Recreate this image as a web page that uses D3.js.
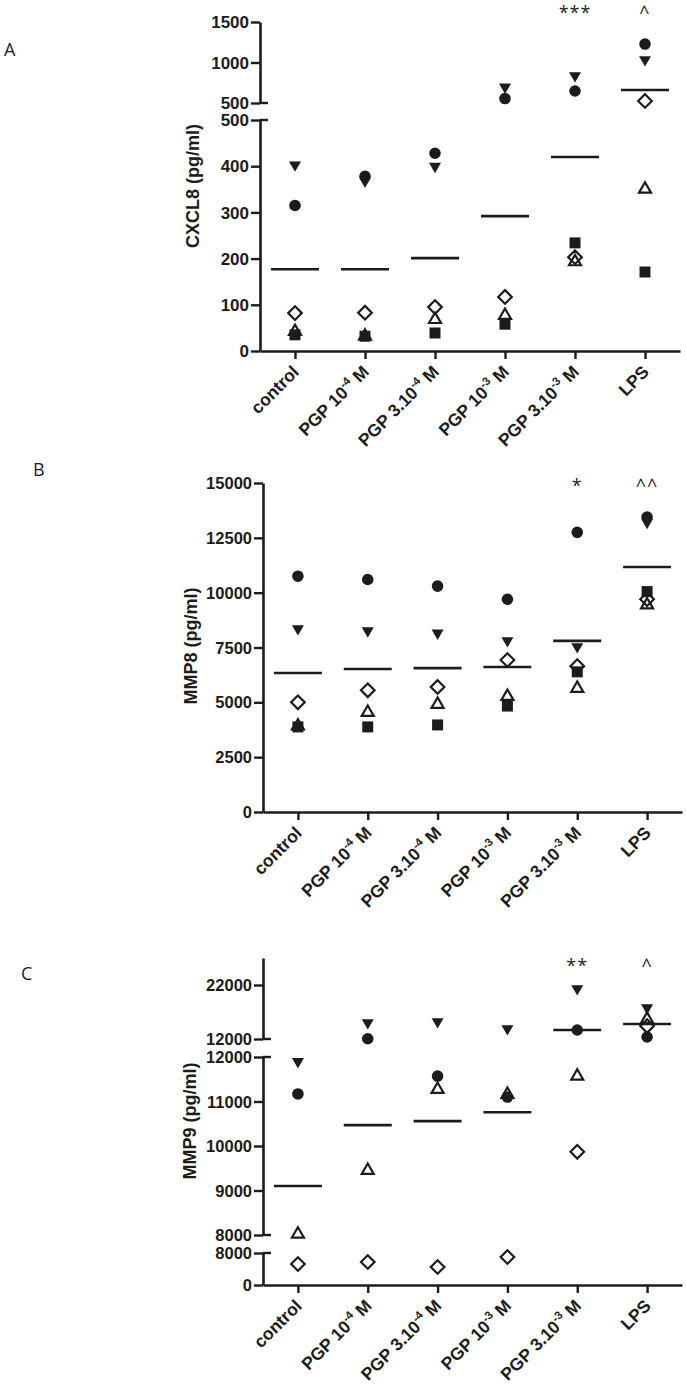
<!DOCTYPE html>
<html><head><meta charset="utf-8">
<script src="https://cdn.jsdelivr.net/npm/d3@7"></script>
<style>html,body{margin:0;padding:0;background:#fff;} svg{display:block;}</style>
</head><body><svg id="chart" width="687" height="1388"></svg>
<script>
// ---------- data ----------
const categories = ["control", "PGP 10-4 M", "PGP 3.10-4 M", "PGP 10-3 M", "PGP 3.10-3 M", "LPS"];
const labelBase = ["control", "PGP 10", "PGP 3.10", "PGP 10", "PGP 3.10", "LPS"];
const labelSup  = ["", "-4", "-4", "-3", "-3", ""];
const labelTail = ["", " M", " M", " M", " M", ""];

// Panel A: CXCL8 (pg/ml)
const cxcl8Circle   = [315, 378, 428, 555, 648, 1228];
const cxcl8TriDown  = [400, 365, 397, 680, 821, 1019];
const cxcl8Diamond  = [82, 83, 95, 117, 203, 525];
const cxcl8TriUp    = [45, 35, 71, 80, 196, 353];
const cxcl8Square   = [35, 32, 39, 58, 234, 171];
const cxcl8Mean     = [177, 177, 201, 292, 420, 660];
const cxcl8Sig      = ["", "", "", "", "***", "^"];
const cxcl8LowTicks = [0, 100, 200, 300, 400, 500];
const cxcl8HighTicks = [500, 1000, 1500];

// Panel B: MMP8 (pg/ml)
const mmp8Circle  = [10750, 10600, 10300, 9700, 12750, 13450];
const mmp8TriDown = [8300, 8200, 8100, 7750, 7480, 13150];
const mmp8Diamond = [5000, 5550, 5700, 6930, 6650, 9700];
const mmp8TriUp   = [3980, 4600, 4970, 5330, 5700, 9500];
const mmp8Square  = [3880, 3880, 3970, 4830, 6390, 10050];
const mmp8Mean    = [6340, 6520, 6560, 6610, 7800, 11170];
const mmp8Sig     = ["", "", "", "", "*", "^^"];
const mmp8Ticks   = [0, 2500, 5000, 7500, 10000, 12500, 15000];

// Panel C: MMP9 (pg/ml)
const mmp9Circle  = [11170, 12050, 11570, 11100, 13670, 12370];
const mmp9TriDown = [11870, 14780, 14960, 13670, 21070, 17550];
const mmp9Diamond = [5250, 5750, 4500, 7000, 9870, 14400];
const mmp9TriUp   = [8050, 9480, 11300, 11190, 11600, 15890];
const mmp9Mean    = [9100, 10470, 10560, 10760, 13670, 14780];
const mmp9Sig     = ["", "", "", "", "**", "^"];
const mmp9LowTicks  = [0, 8000];
const mmp9MidTicks  = [8000, 9000, 10000, 11000, 12000];
const mmp9HighTicks = [12000, 22000];

// ---------- layout ----------
const INK = "#1c1c1c";
const FONT = "'Liberation Sans', Arial, Helvetica, sans-serif";
const svg = d3.select("#chart");

const panels = [
  {
    letter: "A", letterX: 4, letterY: 56, title: "CXCL8 (pg/ml)", titleX: 193, titleY: 186,
    axisX: 260, axisEnd: 680, axisY: 351, tickFont: 17, sigY: 19,
    segments: [
      {domain: [0, 500], range: [351, 120], ticks: cxcl8LowTicks, breakTop: true, breakBottom: false},
      {domain: [500, 1500], range: [103, 22], ticks: cxcl8HighTicks, breakTop: false, breakBottom: true}
    ],
    series: [
      {shape: "square", values: cxcl8Square},
      {shape: "triangleUp", values: cxcl8TriUp},
      {shape: "diamond", values: cxcl8Diamond},
      {shape: "triangleDown", values: cxcl8TriDown},
      {shape: "circle", values: cxcl8Circle}
    ],
    means: cxcl8Mean, sig: cxcl8Sig
  },
  {
    letter: "B", letterX: 33, letterY: 476, title: "MMP8 (pg/ml)", titleX: 191, titleY: 646,
    axisX: 263, axisEnd: 682, axisY: 812, tickFont: 16.5, sigY: 492,
    segments: [
      {domain: [0, 15000], range: [812, 483], ticks: mmp8Ticks, breakTop: false, breakBottom: false}
    ],
    series: [
      {shape: "square", values: mmp8Square},
      {shape: "triangleUp", values: mmp8TriUp},
      {shape: "diamond", values: mmp8Diamond},
      {shape: "triangleDown", values: mmp8TriDown},
      {shape: "circle", values: mmp8Circle}
    ],
    means: mmp8Mean, sig: mmp8Sig
  },
  {
    letter: "C", letterX: 21, letterY: 980, title: "MMP9 (pg/ml)", titleX: 190, titleY: 1121,
    axisX: 263, axisEnd: 682, axisY: 1285, tickFont: 16.5, sigY: 972,
    segments: [
      {domain: [0, 8000], range: [1285, 1253], ticks: mmp9LowTicks, breakTop: true, breakBottom: false},
      {domain: [8000, 12000], range: [1235, 1057], ticks: mmp9MidTicks, breakTop: true, breakBottom: true},
      {domain: [12000, 27000], range: [1039, 958], ticks: mmp9HighTicks, breakTop: false, breakBottom: true}
    ],
    series: [
      {shape: "triangleUp", values: mmp9TriUp},
      {shape: "diamond", values: mmp9Diamond},
      {shape: "triangleDown", values: mmp9TriDown},
      {shape: "circle", values: mmp9Circle}
    ],
    means: mmp9Mean, sig: mmp9Sig
  }
];

const shapePaths = {
  circle: d3.symbol(d3.symbolCircle, Math.PI * 5.8 * 5.8)(),
  square: "M-5.5,-5.5H5.5V5.5H-5.5Z",
  triangleDown: "M-6,-4.8L6,-4.8L0,5.6Z",
  triangleUp: "M0,-5.6L6,4.8L-6,4.8Z",
  diamond: "M0,-6.8L6.8,0L0,6.8L-6.8,0Z"
};
const filled = {circle: true, square: true, triangleDown: true, triangleUp: false, diamond: false};

panels.forEach(p => {
  const g = svg.append("g");
  const x = d3.scalePoint().domain(categories).range([p.axisX, p.axisEnd]).padding(0.5);
  p.segments.forEach(s => { s.scale = d3.scaleLinear().domain(s.domain).range(s.range); });
  const yOf = v => {
    for (let i = p.segments.length - 1; i >= 0; i--) {
      const s = p.segments[i];
      if (v > s.domain[0] || i === 0) return s.scale(v);
    }
  };

  // panel letter
  g.append("text").attr("x", p.letterX).attr("y", p.letterY)
    .attr("font-family", "'Open Sans', sans-serif").attr("font-size", 18)
    .attr("fill", INK).text(p.letter);

  // y axis segments
  p.segments.forEach(s => {
    const ax = g.append("g").attr("transform", `translate(${p.axisX},0)`)
      .call(d3.axisLeft(s.scale).tickValues(s.ticks).tickFormat(d3.format("d"))
        .tickSize(9).tickSizeOuter(0).tickPadding(2));
    ax.select(".domain").attr("stroke", INK).attr("stroke-width", 2.6);
    ax.selectAll(".tick line").attr("stroke", INK).attr("stroke-width", 2.4);
    ax.selectAll(".tick text").attr("font-family", FONT)
      .attr("font-weight", "bold").attr("font-size", p.tickFont).attr("fill", INK)
      .attr("dy", "0.34em");
    const brk = [];
    if (s.breakTop) brk.push(s.range[1]);
    if (s.breakBottom) brk.push(s.range[0]);
    brk.forEach(yy => {
      g.append("line").attr("x1", p.axisX).attr("x2", p.axisX + 8)
        .attr("y1", yy).attr("y2", yy).attr("stroke", INK).attr("stroke-width", 2.4);
    });
  });

  // y title
  g.append("text").attr("transform", `translate(${p.titleX},${p.titleY}) rotate(-90)`)
    .attr("text-anchor", "middle").attr("dy", "0.35em")
    .attr("font-family", FONT).attr("font-weight", "bold")
    .attr("font-size", 18).attr("fill", INK).text(p.title);

  // x axis
  const xa = g.append("g").attr("transform", `translate(0,${p.axisY})`)
    .call(d3.axisBottom(x).tickSize(8).tickSizeOuter(0).tickFormat(""));
  xa.select(".domain").attr("stroke", INK).attr("stroke-width", 2.6);
  xa.selectAll(".tick line").attr("stroke", INK).attr("stroke-width", 2.4);

  // x labels (rotated)
  categories.forEach((c, i) => {
    const t = g.append("text")
      .attr("transform", `translate(${x(c) + 5},${p.axisY + 22}) rotate(-45)`)
      .attr("text-anchor", "end")
      .attr("font-family", FONT).attr("font-weight", "bold")
      .attr("font-size", 17.5).attr("fill", INK);
    t.append("tspan").text(labelBase[i]);
    if (labelSup[i]) {
      t.append("tspan").attr("font-size", 11.5).attr("dy", -7).text(labelSup[i]);
      t.append("tspan").attr("dy", 7).text(labelTail[i]);
    }
  });

  // mean lines
  g.selectAll(".mean").data(p.means).enter().append("line")
    .attr("x1", (d, i) => x(categories[i]) - 24).attr("x2", (d, i) => x(categories[i]) + 24)
    .attr("y1", d => yOf(d)).attr("y2", d => yOf(d))
    .attr("stroke", INK).attr("stroke-width", 2.6);

  // points
  p.series.forEach(s => {
    g.selectAll(null).data(s.values).enter().append("path")
      .attr("d", shapePaths[s.shape])
      .attr("transform", (d, i) => `translate(${x(categories[i])},${yOf(d)})`)
      .attr("fill", filled[s.shape] ? INK : "none")
      .attr("stroke", INK)
      .attr("stroke-width", filled[s.shape] ? 0 : 2.2)
      .attr("stroke-linejoin", "miter");
  });

  // significance marks
  p.sig.forEach((m, i) => {
    if (!m) return;
    g.append("text").attr("x", x(categories[i])).attr("y", p.sigY)
      .attr("text-anchor", "middle").attr("font-family", "'Open Sans', sans-serif")
      .attr("font-size", 18).attr("letter-spacing", 1).attr("fill", INK).text(m);
  });
});
</script></body></html>
